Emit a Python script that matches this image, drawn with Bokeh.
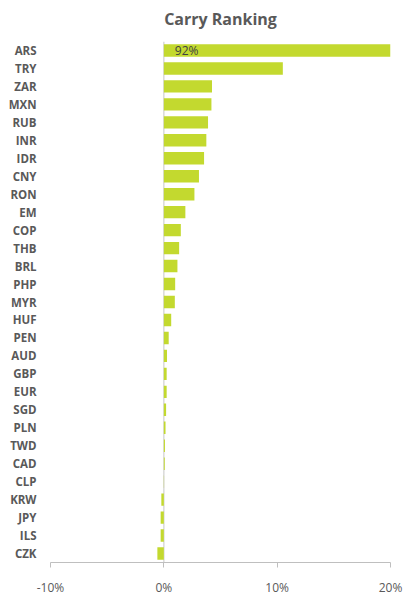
from bokeh.plotting import figure
from bokeh.models import FactorRange, Range1d, FixedTicker, PrintfTickFormatter, Span, ColumnDataSource, Title
from bokeh.core.properties import value
from bokeh.embed import file_html
from bokeh.resources import INLINE

# Data (carry, %), top to bottom as shown
currencies = ["ARS", "TRY", "ZAR", "MXN", "RUB", "INR", "IDR", "CNY", "RON", "EM",
              "COP", "THB", "BRL", "PHP", "MYR", "HUF", "PEN", "AUD", "GBP", "EUR",
              "SGD", "PLN", "TWD", "CAD", "CLP", "KRW", "JPY", "ILS", "CZK"]
carry = [92.0, 10.5, 4.25, 4.2, 3.9, 3.75, 3.55, 3.1, 2.7, 1.9,
         1.5, 1.35, 1.2, 1.0, 0.97, 0.65, 0.43, 0.28, 0.25, 0.25,
         0.2, 0.15, 0.1, 0.08, 0.02, -0.22, -0.28, -0.28, -0.57]
x_ticks = [-10, 0, 10, 20]
label_text = ["92%"]

FONT = "Open Sans"
GREY = "#595959"
BAR = "#c3d92f"

src = ColumnDataSource(dict(cur=currencies, val=carry))

p = figure(width=406, height=598, output_backend="svg", toolbar_location=None,
           y_range=FactorRange(*reversed(currencies), range_padding=0),
           x_range=Range1d(x_ticks[0], x_ticks[-1]),
           min_border_left=50, min_border_right=16, min_border_top=41, min_border_bottom=30,
           title="Carry Ranking")

p.title.align = "center"
p.title.text_font = FONT
p.title.text_font_size = "16px"
p.title.text_font_style = "bold"
p.title.text_color = GREY
p.title.offset = 0
p.title.standoff = 10

# small empty spacer between title and plot area
p.add_layout(Title(text=" ", text_font_size="4px", standoff=0), "above")

p.outline_line_color = None
p.xgrid.visible = False
p.ygrid.visible = False

zero = Span(location=0, dimension="height", line_color="#d9d9d9", line_width=1.5, level="underlay")
p.add_layout(zero)

p.hbar(y="cur", right="val", left=0, height=0.69, source=src, color=BAR, line_color=None)

p.text(x=[0], y=[currencies[0]], text=label_text, x_offset=11, text_baseline="middle",
       text_font=value(FONT), text_font_size="12px", text_color="#404040")

xa = p.xaxis[0]
xa.ticker = FixedTicker(ticks=x_ticks)
xa.formatter = PrintfTickFormatter(format="%d%%")
xa.axis_line_color = "#bfbfbf"
xa.major_tick_line_color = "#bfbfbf"
xa.major_tick_in = 0
xa.major_tick_out = 5
xa.minor_tick_line_color = None
xa.major_label_text_font = FONT
xa.major_label_text_font_size = "12px"
xa.major_label_text_color = GREY
xa.major_label_standoff = 11

ya = p.yaxis[0]
ya.axis_line_color = None
ya.major_tick_line_color = None
ya.minor_tick_line_color = None
ya.major_label_text_font = FONT
ya.major_label_text_font_size = "11.5px"
ya.major_label_text_font_style = "bold"
ya.major_label_text_color = GREY
ya.major_label_standoff = 8

open("out.html", "w").write(file_html(p, INLINE))
